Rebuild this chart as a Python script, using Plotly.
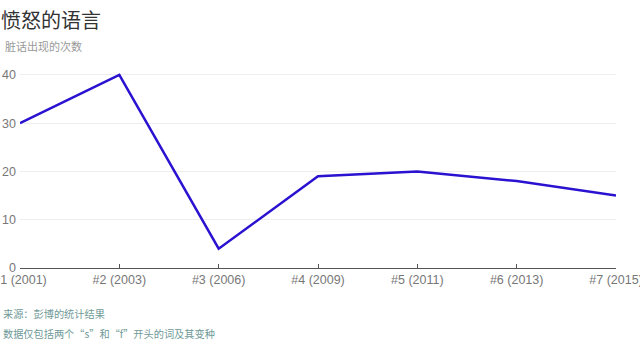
import plotly.graph_objects as go

categories = ["#1 (2001)", "#2 (2003)", "#3 (2006)", "#4 (2009)", "#5 (2011)", "#6 (2013)", "#7 (2015)"]
counts = [30, 40, 4, 19, 20, 18, 15]
y_ticks = [0, 10, 20, 30, 40]

title = "愤怒的语言"
subtitle = "脏话出现的次数"
source = "来源：彭博的统计结果"
note = "数据仅包括两个“s”和“f”开头的词及其变种"

cjk = "Noto Sans CJK SC, Noto Sans, sans-serif"
latin = "Liberation Sans, Arial, sans-serif"

W, H = 640, 359
L, R = 20, W - 616
T, B = 72, H - 268
PW, PH = W - L - R, H - T - B


def px(x):
    return (x - L) / PW


def py(y):
    return (H - B - y) / PH


fig = go.Figure()
fig.add_trace(go.Scatter(
    x=list(range(len(categories))), y=counts, mode="lines",
    line=dict(color="#2a12d0", width=2.5), cliponaxis=False,
    hoverinfo="skip"
))

fig.update_layout(
    width=W, height=H,
    margin=dict(l=L, r=R, t=T, b=B),
    paper_bgcolor="white", plot_bgcolor="white",
    showlegend=False,
    font=dict(family=latin, color="#666", size=12),
    xaxis=dict(
        range=[0, len(categories) - 1],
        tickmode="array", tickvals=list(range(len(categories))), ticktext=categories,
        showgrid=False, zeroline=False,
        showline=True, linecolor="#555", linewidth=1,
        ticks="inside", ticklen=4, tickcolor="#555",
        tickfont=dict(size=12.5, color="#777", family=latin),
        automargin=False, ticklabeloverflow="allow",
        fixedrange=True,
    ),
    yaxis=dict(
        range=[0, 40.6],
        tickmode="array", tickvals=y_ticks,
        showgrid=True, gridcolor="#eeeeee", gridwidth=1,
        zeroline=False, showline=False, ticks="",
        ticklabelstandoff=3,
        tickfont=dict(size=12.5, color="#777", family=latin),
        automargin=False,
        fixedrange=True,
    ),
    annotations=[
        dict(text=title, x=px(-1), y=py(20), xref="paper", yref="paper", xanchor="left", yanchor="middle",
             showarrow=False, font=dict(size=20, color="#333", family=cjk)),
        dict(text=subtitle, x=px(3), y=py(46), xref="paper", yref="paper", xanchor="left", yanchor="middle",
             showarrow=False, font=dict(size=11, color="#999", family=cjk)),
        dict(text=source, x=px(1), y=py(313), xref="paper", yref="paper", xanchor="left", yanchor="middle",
             showarrow=False, font=dict(size=10.2, color="#6f9a98", family=cjk)),
        dict(text=note, x=px(1), y=py(333), xref="paper", yref="paper", xanchor="left", yanchor="middle",
             showarrow=False, font=dict(size=10.2, color="#6f9a98", family=cjk)),
    ],
)

fig.write_html("out.html", config={"displayModeBar": False},
               post_script="document.body.style.margin='0';")
